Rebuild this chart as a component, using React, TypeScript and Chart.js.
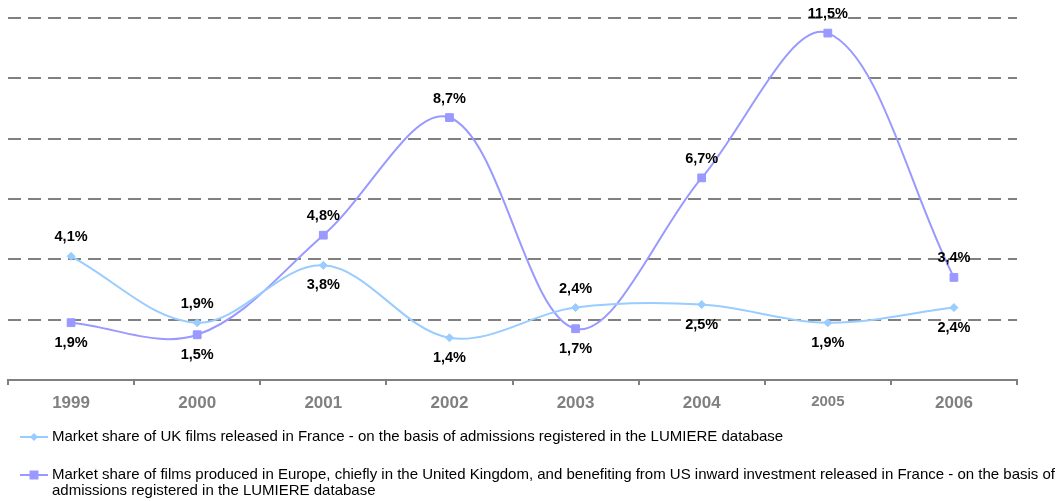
import { useEffect, useRef } from 'react';
import { Chart, registerables } from 'chart.js';

Chart.register(...registerables);

const categories = ['1999', '2000', '2001', '2002', '2003', '2004', '2005', '2006'];
const ukShare = [4.1, 1.9, 3.8, 1.4, 2.4, 2.5, 1.9, 2.4];
const euUsShare = [1.9, 1.5, 4.8, 8.7, 1.7, 6.7, 11.5, 3.4];
const ukLabelSide = ['above', 'above', 'below', 'below', 'above', 'below', 'below', 'below'];
const euUsLabelSide = ['below', 'below', 'above', 'above', 'below', 'above', 'above', 'above'];
const yMin = 0;
const yMax = 12;
const yStep = 2;
const seriesNames = [
  'Market share of UK films released in France - on the basis of admissions registered in the LUMIERE database',
  'Market share of films produced in Europe, chiefly in the United Kingdom, and benefiting from US inward investment released in France - on the basis of admissions registered in the LUMIERE database',
];

const FONT = '"Liberation Sans", Arial, Helvetica, sans-serif';
const UK_COLOR = '#99CCFF';
const EU_COLOR = '#9999FF';
const GRID = '#808080';

const labelSides = [ukLabelSide, euUsLabelSide];

const fmt = (v: number) => v.toFixed(1).replace('.', ',') + '%';

const pctLabelsPlugin = {
  id: 'pctLabels',
  afterDatasetsDraw(chart: any) {
    const ctx = chart.ctx;
    ctx.save();
    ctx.font = `bold 14.5px ${FONT}`;
    ctx.fillStyle = '#000000';
    ctx.textAlign = 'center';
    ctx.textBaseline = 'middle';
    chart.data.datasets.forEach((ds: any, i: number) => {
      const meta = chart.getDatasetMeta(i);
      const sides = labelSides[i];
      meta.data.forEach((pt: any, j: number) => {
        const dy = sides[j] === 'above' ? -19 : 20;
        ctx.fillText(fmt(ds.data[j]), pt.x, pt.y + dy);
      });
    });
    ctx.restore();
  },
};

function wrapText(ctx: CanvasRenderingContext2D, text: string, maxWidth: number) {
  const words = text.split(' ');
  const lines: string[] = [];
  let cur = '';
  for (const w of words) {
    const test = cur ? cur + ' ' + w : w;
    if (ctx.measureText(test).width > maxWidth && cur) {
      lines.push(cur);
      cur = w;
    } else {
      cur = test;
    }
  }
  if (cur) lines.push(cur);
  return lines;
}

const bottomLegendPlugin = {
  id: 'bottomLegend',
  afterDraw(chart: any) {
    const ctx: CanvasRenderingContext2D = chart.ctx;
    ctx.save();
    ctx.font = `15px ${FONT}`;
    ctx.textAlign = 'left';
    ctx.textBaseline = 'middle';
    const rowsY = [437, 475];
    const lineX0 = 20;
    const lineX1 = 48;
    const textX = 52;
    chart.data.datasets.forEach((ds: any, i: number) => {
      const y = rowsY[i];
      ctx.strokeStyle = ds.borderColor;
      ctx.lineWidth = 2;
      ctx.beginPath();
      ctx.moveTo(lineX0, y);
      ctx.lineTo(lineX1, y);
      ctx.stroke();
      ctx.fillStyle = ds.borderColor;
      const cx = (lineX0 + lineX1) / 2;
      ctx.beginPath();
      if (ds.pointStyle === 'rectRot') {
        const r = 4;
        ctx.moveTo(cx - r, y);
        ctx.lineTo(cx, y - r);
        ctx.lineTo(cx + r, y);
        ctx.lineTo(cx, y + r);
        ctx.closePath();
      } else {
        const s = 4.5;
        ctx.rect(cx - s, y - s, 2 * s, 2 * s);
      }
      ctx.fill();
      ctx.fillStyle = '#000000';
      const lines = wrapText(ctx, ds.label, chart.width - textX - 2);
      lines.forEach((ln, k) => ctx.fillText(ln, textX, y + k * 15.5));
    });
    ctx.restore();
  },
};

export default function App() {
  const ref = useRef<HTMLCanvasElement | null>(null);

  useEffect(() => {
    if (!ref.current) return;
    const chart = new Chart(ref.current, {
      type: 'line',
      data: {
        labels: categories,
        datasets: [
          {
            label: seriesNames[0],
            data: ukShare,
            borderColor: UK_COLOR,
            backgroundColor: UK_COLOR,
            pointBackgroundColor: UK_COLOR,
            pointBorderColor: UK_COLOR,
            pointStyle: 'rectRot',
            pointRadius: 4,
            pointBorderWidth: 1,
            borderWidth: 2,
            tension: 0.35,
            fill: false,
          },
          {
            label: seriesNames[1],
            data: euUsShare,
            borderColor: EU_COLOR,
            backgroundColor: EU_COLOR,
            pointBackgroundColor: EU_COLOR,
            pointBorderColor: EU_COLOR,
            pointStyle: 'rect',
            pointRadius: 5.5,
            pointBorderWidth: 1,
            borderWidth: 2,
            tension: 0.35,
            fill: false,
          },
        ],
      },
      options: {
        responsive: true,
        maintainAspectRatio: false,
        animation: false,
        layout: { padding: { left: 8, right: 46, top: 18, bottom: 81 } },
        plugins: {
          legend: { display: false },
          tooltip: { enabled: false },
        },
        scales: {
          x: {
            offset: true,
            afterFit: (scale: any) => {
              scale.height = 40;
            },
            grid: {
              display: true,
              drawOnChartArea: false,
              drawTicks: true,
              tickLength: 5,
              color: GRID,
              lineWidth: 2,
              offset: true,
            },
            border: { display: true, color: GRID, width: 2 },
            ticks: {
              color: GRID,
              padding: 8,
              font: (c: any) => ({
                family: FONT,
                weight: 'bold',
                size: categories[c.index] === '2005' ? 15 : 17,
              }),
            },
          },
          y: {
            min: yMin,
            max: yMax,
            afterFit: (scale: any) => {
              scale.width = 0;
            },
            ticks: { display: false, stepSize: yStep },
            grid: {
              drawTicks: false,
              color: (c: any) => (c.tick && c.tick.value === 0 ? 'rgba(0,0,0,0)' : GRID),
              lineWidth: 2,
            },
            border: { display: false, dash: [13, 7] },
          },
        },
      },
      plugins: [pctLabelsPlugin, bottomLegendPlugin],
    });
    return () => chart.destroy();
  }, []);

  return (
    <div style={{ position: 'fixed', left: 0, top: 0, width: 1063, height: 501, background: '#ffffff' }}>
      <canvas ref={ref} />
    </div>
  );
}
